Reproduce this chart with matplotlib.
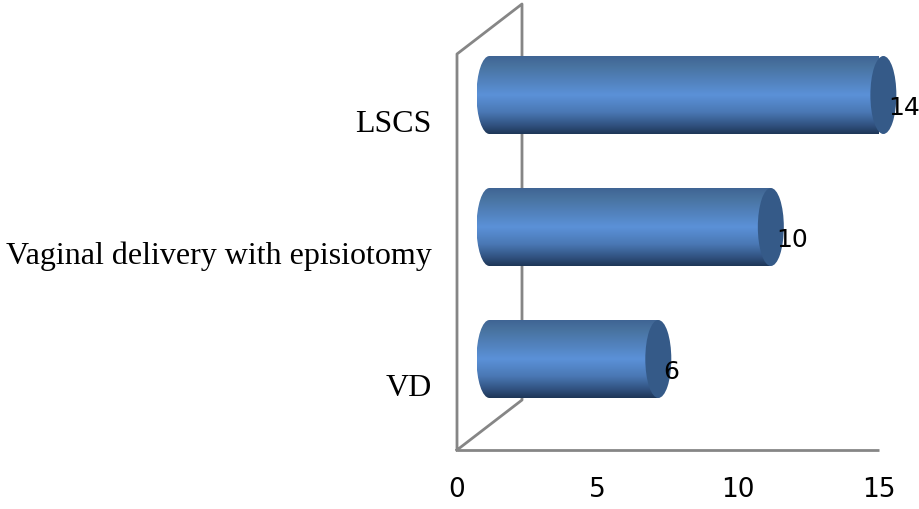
import numpy as np
import matplotlib
matplotlib.use('Agg')
import matplotlib.pyplot as plt
from matplotlib.colors import LinearSegmentedColormap
from matplotlib.patches import Ellipse, PathPatch
from matplotlib.path import Path

categories = ['VD', 'Vaginal delivery with episiotomy', 'LSCS']
values = [6, 10, 14]
xticks = [0, 5, 10, 15]

W, H = 919, 510
fig = plt.figure(figsize=(W / 100, H / 100), dpi=100)
# front plane of the 3d box, in pixels: x 457-879, y 55-451
ax = fig.add_axes([457 / W, 1 - 451 / H, (879 - 457) / W, (451 - 55) / H])
ax.set_xlim(0, 15)
ax.set_ylim(-0.5, 2.5)

ypos = np.arange(len(categories))
ax.set_yticks(ypos)
ax.set_yticklabels(categories, family='Liberation Serif', fontsize=23)
ax.set_xticks(xticks)
ax.tick_params(axis='y', length=0, pad=18)
ax.tick_params(axis='x', length=0, pad=19, labelsize=19)
for s in ['top', 'right', 'left']:
    ax.spines[s].set_visible(False)
ax.spines['bottom'].set_color('#868686')
ax.spines['bottom'].set_linewidth(2)
ax.spines['bottom'].set_capstyle('butt')
ax.patch.set_alpha(0)

# depth of the box in data units
depth_x = 65 / (422 / 15)
depth_y = 50 / 132
grey = dict(color='#868686', lw=2, clip_on=False, zorder=1, solid_capstyle='projecting')
ax.plot([0, 0, depth_x, depth_x, 0],
        [-0.5, 2.5, 2.5 + depth_y, -0.5 + depth_y, -0.5], **grey)

# 立体柱子的渐变色
cmap = LinearSegmentedColormap.from_list('cyl', [
    (0.0, '#3f6494'), (0.12, '#48729f'), (0.5, '#5b91d8'),
    (0.72, '#4a78b4'), (0.9, '#2f4f7c'), (1.0, '#1e3657')])
grad = np.linspace(0, 1, 256).reshape(-1, 1)

half_h = 39 / 132
rx = 13 / (422 / 15)
k = 0.5523  # bezier circle constant

for y, v in zip(ypos, values):
    yc = y + depth_y / 2
    x0 = depth_x / 2
    x1 = x0 + v
    top, bot = yc + half_h, yc - half_h
    verts = [(x0, bot),
             (x0 - k * rx, bot), (x0 - rx, yc - k * half_h), (x0 - rx, yc),
             (x0 - rx, yc + k * half_h), (x0 - k * rx, top), (x0, top),
             (x1, top), (x1, bot), (x0, bot)]
    codes = [Path.MOVETO] + [Path.CURVE4] * 6 + [Path.LINETO, Path.LINETO, Path.CLOSEPOLY]
    body = PathPatch(Path(verts, codes), fc='none', ec='none', zorder=2)
    ax.add_patch(body)
    im = ax.imshow(grad, cmap=cmap, aspect='auto', zorder=2, interpolation='bilinear',
                   extent=[x0 - rx, x1, bot, top], origin='upper')
    im.set_clip_path(body)
    ax.add_patch(Ellipse((x1, yc), 2 * rx, 2 * half_h, fc='#355a88', ec='none',
                         zorder=3, clip_on=False))
    ax.text(x1 + 5 / (422 / 15), yc - 12 / 132, str(v), ha='left', va='center',
            fontsize=18, color='black', zorder=4, clip_on=False)

ax.set_xlim(0, 15)
ax.set_ylim(-0.5, 2.5)

fig.savefig('out.png', dpi=100)
